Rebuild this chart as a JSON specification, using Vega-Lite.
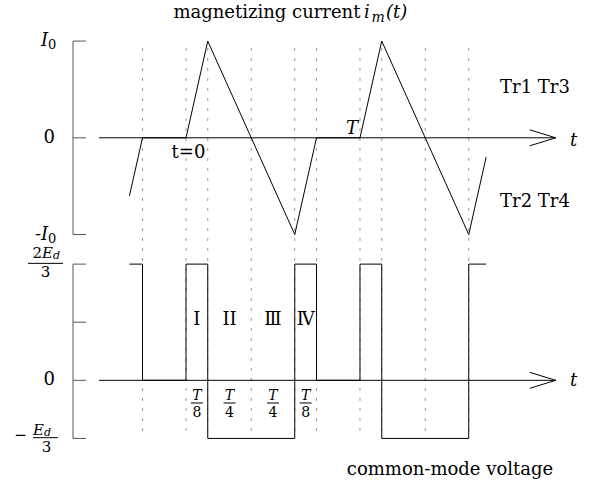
{
  "$schema": "https://vega.github.io/schema/vega-lite/v6.json",
  "width": 590,
  "height": 487,
  "padding": 0,
  "autosize": {"type": "fit", "contains": "padding"},
  "background": "white",
  "config": {"view": {"stroke": null}, "text": {"font": "DejaVu Serif", "color": "black"}},
  "resolve": {"scale": {"y": "independent"}},
  "layer": [
    {
      "data": {"values": [{"t": -2}, {"t": 0}, {"t": 1}, {"t": 3}, {"t": 5}, {"t": 6}, {"t": 8}, {"t": 9}, {"t": 11}, {"t": 13}]},
      "mark": {"type": "rule", "strokeDash": [3, 7], "color": "#999999", "strokeWidth": 1},
      "encoding": {
        "x": {"field": "t", "type": "quantitative", "scale": {"domain": [-8.552, 18.575], "nice": false, "zero": false}, "axis": null},
        "y": {"datum": 0.929, "type": "quantitative", "scale": {"domain": [-3.611, 1.425], "nice": false, "zero": false}, "axis": null},
        "y2": {"datum": -3.073}
      }
    },
    {
      "data": {"values": [{"a": -4, "b": 17, "v": 0}]},
      "mark": {"type": "rule", "color": "black", "strokeWidth": 1},
      "encoding": {
        "x": {"field": "a", "type": "quantitative", "scale": {"domain": [-8.552, 18.575], "nice": false, "zero": false}, "axis": null},
        "x2": {"field": "b"},
        "y": {"field": "v", "type": "quantitative", "scale": {"domain": [-3.611, 1.425], "nice": false, "zero": false}, "axis": null}
      }
    },
    {
      "data": {"values": [{"t": 15.8, "v": 0.083, "k": 0}, {"t": 17, "v": 0, "k": 1}, {"t": 15.8, "v": -0.083, "k": 2}]},
      "mark": {"type": "line", "color": "black", "strokeWidth": 1},
      "encoding": {
        "x": {"field": "t", "type": "quantitative", "scale": {"domain": [-8.552, 18.575], "nice": false, "zero": false}, "axis": null},
        "y": {"field": "v", "type": "quantitative", "scale": {"domain": [-3.611, 1.425], "nice": false, "zero": false}, "axis": null},
        "order": {"field": "k"}
      }
    },
    {
      "data": {"values": [
        {"t": -2.6, "im": -0.6}, {"t": -2, "im": 0}, {"t": 0, "im": 0}, {"t": 1, "im": 1},
        {"t": 5, "im": -1}, {"t": 6, "im": 0}, {"t": 8, "im": 0}, {"t": 9, "im": 1},
        {"t": 13, "im": -1}, {"t": 13.8, "im": -0.2}
      ]},
      "mark": {"type": "line", "color": "black", "strokeWidth": 1},
      "encoding": {
        "x": {"field": "t", "type": "quantitative", "scale": {"domain": [-8.552, 18.575], "nice": false, "zero": false}, "axis": null},
        "y": {"field": "im", "type": "quantitative", "scale": {"domain": [-3.611, 1.425], "nice": false, "zero": false}, "axis": null}
      }
    },
    {
      "data": {"values": [{"a": -5.195, "b": -5.195, "v": 1, "w": -1}, {"a": -5.195, "b": -4.6, "v": 1, "w": 1}, {"a": -5.195, "b": -4.6, "v": 0, "w": 0}, {"a": -5.195, "b": -4.6, "v": -1, "w": -1}]},
      "mark": {"type": "rule", "color": "#555555", "strokeWidth": 1},
      "encoding": {
        "x": {"field": "a", "type": "quantitative", "scale": {"domain": [-8.552, 18.575], "nice": false, "zero": false}, "axis": null},
        "x2": {"field": "b"},
        "y": {"field": "v", "type": "quantitative", "scale": {"domain": [-3.611, 1.425], "nice": false, "zero": false}, "axis": null},
        "y2": {"field": "w"}
      }
    },
    {
      "data": {"values": [{"a": -4, "b": 17, "v": 0}]},
      "mark": {"type": "rule", "color": "black", "strokeWidth": 1},
      "encoding": {
        "x": {"field": "a", "type": "quantitative", "scale": {"domain": [-8.552, 18.575], "nice": false, "zero": false}, "axis": null},
        "x2": {"field": "b"},
        "y": {"field": "v", "type": "quantitative", "scale": {"domain": [-0.612, 2.182], "nice": false, "zero": false}, "axis": null}
      }
    },
    {
      "data": {"values": [{"t": 15.8, "v": 0.046, "k": 0}, {"t": 17, "v": 0, "k": 1}, {"t": 15.8, "v": -0.046, "k": 2}]},
      "mark": {"type": "line", "color": "black", "strokeWidth": 1},
      "encoding": {
        "x": {"field": "t", "type": "quantitative", "scale": {"domain": [-8.552, 18.575], "nice": false, "zero": false}, "axis": null},
        "y": {"field": "v", "type": "quantitative", "scale": {"domain": [-0.612, 2.182], "nice": false, "zero": false}, "axis": null},
        "order": {"field": "k"}
      }
    },
    {
      "data": {"values": [
        {"t": -2.6, "vcm": 0.6667}, {"t": -2, "vcm": 0}, {"t": 0, "vcm": 0.6667}, {"t": 1, "vcm": -0.3333},
        {"t": 5, "vcm": 0.6667}, {"t": 6, "vcm": 0}, {"t": 8, "vcm": 0.6667}, {"t": 9, "vcm": -0.3333},
        {"t": 13, "vcm": 0.6667}, {"t": 13.8, "vcm": 0.6667}
      ]},
      "mark": {"type": "line", "color": "black", "strokeWidth": 1, "interpolate": "step-after"},
      "encoding": {
        "x": {"field": "t", "type": "quantitative", "scale": {"domain": [-8.552, 18.575], "nice": false, "zero": false}, "axis": null},
        "y": {"field": "vcm", "type": "quantitative", "scale": {"domain": [-0.612, 2.182], "nice": false, "zero": false}, "axis": null}
      }
    },
    {
      "data": {"values": [{"a": -5.195, "b": -5.195, "v": 0.6667, "w": -0.3333}, {"a": -5.195, "b": -4.6, "v": 0.6667, "w": 0.6667}, {"a": -5.195, "b": -4.6, "v": 0.3333, "w": 0.3333}, {"a": -5.195, "b": -4.6, "v": 0, "w": 0}, {"a": -5.195, "b": -4.6, "v": -0.3333, "w": -0.3333}]},
      "mark": {"type": "rule", "color": "#555555", "strokeWidth": 1},
      "encoding": {
        "x": {"field": "a", "type": "quantitative", "scale": {"domain": [-8.552, 18.575], "nice": false, "zero": false}, "axis": null},
        "x2": {"field": "b"},
        "y": {"field": "v", "type": "quantitative", "scale": {"domain": [-0.612, 2.182], "nice": false, "zero": false}, "axis": null},
        "y2": {"field": "w"}
      }
    },
    {
      "data": {"values": [{"t": 0.5}, {"t": 2}, {"t": 4}, {"t": 5.5}]},
      "mark": {"type": "rule", "color": "black", "strokeWidth": 1, "xOffset": -6, "x2Offset": 6},
      "encoding": {
        "x": {"field": "t", "type": "quantitative", "scale": {"domain": [-8.552, 18.575], "nice": false, "zero": false}, "axis": null},
        "x2": {"field": "t"},
        "y": {"datum": -0.13, "type": "quantitative", "scale": {"domain": [-0.612, 2.182], "nice": false, "zero": false}, "axis": null}
      }
    },
    {
      "data": {"values": [{"a": -7.264, "b": -5.655, "v": 0.671}, {"a": -7.03, "b": -5.885, "v": -0.329}]},
      "mark": {"type": "rule", "color": "black", "strokeWidth": 1},
      "encoding": {
        "x": {"field": "a", "type": "quantitative", "scale": {"domain": [-8.552, 18.575], "nice": false, "zero": false}, "axis": null},
        "x2": {"field": "b"},
        "y": {"field": "v", "type": "quantitative", "scale": {"domain": [-0.612, 2.182], "nice": false, "zero": false}, "axis": null}
      }
    },
    {
      "data": {"values": [{"label": "Tr1 Tr3", "t": 14.44, "v": 0.466}, {"label": "Tr2 Tr4", "t": 14.44, "v": -0.716}]},
      "mark": {"type": "text", "align": "left", "baseline": "alphabetic", "fontSize": 18, "font": "DejaVu Serif"},
      "encoding": {
        "x": {"field": "t", "type": "quantitative", "scale": {"domain": [-8.552, 18.575], "nice": false, "zero": false}, "axis": null},
        "y": {"field": "v", "type": "quantitative", "scale": {"domain": [-3.611, 1.425], "nice": false, "zero": false}, "axis": null},
        "text": {"field": "label"}
      }
    },
    {
      "data": {"values": [{"label": "t=0", "t": 0.115, "v": -0.209}]},
      "mark": {"type": "text", "align": "center", "baseline": "alphabetic", "fontSize": 18, "font": "DejaVu Serif"},
      "encoding": {
        "x": {"field": "t", "type": "quantitative", "scale": {"domain": [-8.552, 18.575], "nice": false, "zero": false}, "axis": null},
        "y": {"field": "v", "type": "quantitative", "scale": {"domain": [-3.611, 1.425], "nice": false, "zero": false}, "axis": null},
        "text": {"field": "label"}
      }
    },
    {
      "data": {"values": [{"label": "magnetizing current", "t": 8.02, "v": 1.239}]},
      "mark": {"type": "text", "align": "right", "baseline": "alphabetic", "fontSize": 18, "font": "DejaVu Serif"},
      "encoding": {
        "x": {"field": "t", "type": "quantitative", "scale": {"domain": [-8.552, 18.575], "nice": false, "zero": false}, "axis": null},
        "y": {"field": "v", "type": "quantitative", "scale": {"domain": [-3.611, 1.425], "nice": false, "zero": false}, "axis": null},
        "text": {"field": "label"}
      }
    },
    {
      "data": {"values": [{"label": "i", "t": 8.18, "v": 1.239}, {"label": "(t)", "t": 9.2, "v": 1.239}, {"label": "t", "t": 17.66, "v": -0.085}]},
      "mark": {"type": "text", "align": "left", "baseline": "alphabetic", "fontSize": 18, "fontStyle": "italic", "font": "DejaVu Serif"},
      "encoding": {
        "x": {"field": "t", "type": "quantitative", "scale": {"domain": [-8.552, 18.575], "nice": false, "zero": false}, "axis": null},
        "y": {"field": "v", "type": "quantitative", "scale": {"domain": [-3.611, 1.425], "nice": false, "zero": false}, "axis": null},
        "text": {"field": "label"}
      }
    },
    {
      "data": {"values": [{"label": "m", "t": 8.53, "v": 1.239}]},
      "mark": {"type": "text", "align": "left", "baseline": "alphabetic", "fontSize": 14, "fontStyle": "italic", "dy": 4, "font": "DejaVu Serif"},
      "encoding": {
        "x": {"field": "t", "type": "quantitative", "scale": {"domain": [-8.552, 18.575], "nice": false, "zero": false}, "axis": null},
        "y": {"field": "v", "type": "quantitative", "scale": {"domain": [-3.611, 1.425], "nice": false, "zero": false}, "axis": null},
        "text": {"field": "label"}
      }
    },
    {
      "data": {"values": [{"label": "T", "t": 7.91, "v": 0.039}]},
      "mark": {"type": "text", "align": "right", "baseline": "alphabetic", "fontSize": 18, "fontStyle": "italic", "font": "DejaVu Serif"},
      "encoding": {
        "x": {"field": "t", "type": "quantitative", "scale": {"domain": [-8.552, 18.575], "nice": false, "zero": false}, "axis": null},
        "y": {"field": "v", "type": "quantitative", "scale": {"domain": [-3.611, 1.425], "nice": false, "zero": false}, "axis": null},
        "text": {"field": "label"}
      }
    },
    {
      "data": {"values": [{"label": "I", "t": -6.34, "v": 1}, {"label": "-I", "t": -6.34, "v": -1}]},
      "mark": {"type": "text", "align": "right", "baseline": "middle", "fontSize": 18, "fontStyle": "italic", "font": "DejaVu Serif"},
      "encoding": {
        "x": {"field": "t", "type": "quantitative", "scale": {"domain": [-8.552, 18.575], "nice": false, "zero": false}, "axis": null},
        "y": {"field": "v", "type": "quantitative", "scale": {"domain": [-3.611, 1.425], "nice": false, "zero": false}, "axis": null},
        "text": {"field": "label"}
      }
    },
    {
      "data": {"values": [{"label": "0", "t": -6.34, "v": 1}, {"label": "0", "t": -6.34, "v": -1}]},
      "mark": {"type": "text", "align": "left", "baseline": "middle", "fontSize": 13, "dy": 4, "font": "DejaVu Serif"},
      "encoding": {
        "x": {"field": "t", "type": "quantitative", "scale": {"domain": [-8.552, 18.575], "nice": false, "zero": false}, "axis": null},
        "y": {"field": "v", "type": "quantitative", "scale": {"domain": [-3.611, 1.425], "nice": false, "zero": false}, "axis": null},
        "text": {"field": "label"}
      }
    },
    {
      "data": {"values": [{"label": "0", "t": -6.02, "v": 0}]},
      "mark": {"type": "text", "align": "right", "baseline": "middle", "fontSize": 18, "font": "DejaVu Serif"},
      "encoding": {
        "x": {"field": "t", "type": "quantitative", "scale": {"domain": [-8.552, 18.575], "nice": false, "zero": false}, "axis": null},
        "y": {"field": "v", "type": "quantitative", "scale": {"domain": [-3.611, 1.425], "nice": false, "zero": false}, "axis": null},
        "text": {"field": "label"}
      }
    },
    {
      "data": {"values": [{"label": "0", "t": -6.02, "v": 0}]},
      "mark": {"type": "text", "align": "right", "baseline": "middle", "fontSize": 18, "font": "DejaVu Serif"},
      "encoding": {
        "x": {"field": "t", "type": "quantitative", "scale": {"domain": [-8.552, 18.575], "nice": false, "zero": false}, "axis": null},
        "y": {"field": "v", "type": "quantitative", "scale": {"domain": [-0.612, 2.182], "nice": false, "zero": false}, "axis": null},
        "text": {"field": "label"}
      }
    },
    {
      "data": {"values": [{"label": "t", "t": 17.66, "v": -0.033}]},
      "mark": {"type": "text", "align": "left", "baseline": "alphabetic", "fontSize": 18, "fontStyle": "italic", "font": "DejaVu Serif"},
      "encoding": {
        "x": {"field": "t", "type": "quantitative", "scale": {"domain": [-8.552, 18.575], "nice": false, "zero": false}, "axis": null},
        "y": {"field": "v", "type": "quantitative", "scale": {"domain": [-0.612, 2.182], "nice": false, "zero": false}, "axis": null},
        "text": {"field": "label"}
      }
    },
    {
      "data": {"values": [{"label": "I", "t": 0.5}, {"label": "II", "t": 2}, {"label": "Ⅲ", "t": 4}, {"label": "Ⅳ", "t": 5.5}]},
      "mark": {"type": "text", "align": "center", "baseline": "alphabetic", "fontSize": 18, "font": "DejaVu Serif"},
      "encoding": {
        "x": {"field": "t", "type": "quantitative", "scale": {"domain": [-8.552, 18.575], "nice": false, "zero": false}, "axis": null},
        "y": {"datum": 0.317, "type": "quantitative", "scale": {"domain": [-0.612, 2.182], "nice": false, "zero": false}, "axis": null},
        "text": {"field": "label"}
      }
    },
    {
      "data": {"values": [{"label": "T", "t": 0.5}, {"label": "T", "t": 2}, {"label": "T", "t": 4}, {"label": "T", "t": 5.5}]},
      "mark": {"type": "text", "align": "center", "baseline": "alphabetic", "fontSize": 14, "fontStyle": "italic", "font": "DejaVu Serif"},
      "encoding": {
        "x": {"field": "t", "type": "quantitative", "scale": {"domain": [-8.552, 18.575], "nice": false, "zero": false}, "axis": null},
        "y": {"datum": -0.113, "type": "quantitative", "scale": {"domain": [-0.612, 2.182], "nice": false, "zero": false}, "axis": null},
        "text": {"field": "label"}
      }
    },
    {
      "data": {"values": [{"label": "8", "t": 0.5}, {"label": "4", "t": 2}, {"label": "4", "t": 4}, {"label": "8", "t": 5.5}]},
      "mark": {"type": "text", "align": "center", "baseline": "alphabetic", "fontSize": 14, "font": "DejaVu Serif"},
      "encoding": {
        "x": {"field": "t", "type": "quantitative", "scale": {"domain": [-8.552, 18.575], "nice": false, "zero": false}, "axis": null},
        "y": {"datum": -0.209, "type": "quantitative", "scale": {"domain": [-0.612, 2.182], "nice": false, "zero": false}, "axis": null},
        "text": {"field": "label"}
      }
    },
    {
      "data": {"values": [{"label": "2", "t": -6.62, "v": 0.729}]},
      "mark": {"type": "text", "align": "right", "baseline": "middle", "fontSize": 15, "font": "DejaVu Serif"},
      "encoding": {
        "x": {"field": "t", "type": "quantitative", "scale": {"domain": [-8.552, 18.575], "nice": false, "zero": false}, "axis": null},
        "y": {"field": "v", "type": "quantitative", "scale": {"domain": [-0.612, 2.182], "nice": false, "zero": false}, "axis": null},
        "text": {"field": "label"}
      }
    },
    {
      "data": {"values": [{"label": "E", "t": -6.62, "v": 0.729}, {"label": "E", "t": -7.03, "v": -0.285}]},
      "mark": {"type": "text", "align": "left", "baseline": "middle", "fontSize": 15, "fontStyle": "italic", "font": "DejaVu Serif"},
      "encoding": {
        "x": {"field": "t", "type": "quantitative", "scale": {"domain": [-8.552, 18.575], "nice": false, "zero": false}, "axis": null},
        "y": {"field": "v", "type": "quantitative", "scale": {"domain": [-0.612, 2.182], "nice": false, "zero": false}, "axis": null},
        "text": {"field": "label"}
      }
    },
    {
      "data": {"values": [{"label": "d", "t": -6.12, "v": 0.729}, {"label": "d", "t": -6.53, "v": -0.285}]},
      "mark": {"type": "text", "align": "left", "baseline": "middle", "fontSize": 11, "fontStyle": "italic", "dy": 3, "font": "DejaVu Serif"},
      "encoding": {
        "x": {"field": "t", "type": "quantitative", "scale": {"domain": [-8.552, 18.575], "nice": false, "zero": false}, "axis": null},
        "y": {"field": "v", "type": "quantitative", "scale": {"domain": [-0.612, 2.182], "nice": false, "zero": false}, "axis": null},
        "text": {"field": "label"}
      }
    },
    {
      "data": {"values": [{"label": "3", "t": -6.46, "v": 0.621}, {"label": "3", "t": -6.41, "v": -0.383}, {"label": "−", "t": -7.61, "v": -0.314}]},
      "mark": {"type": "text", "align": "center", "baseline": "middle", "fontSize": 15, "font": "DejaVu Serif"},
      "encoding": {
        "x": {"field": "t", "type": "quantitative", "scale": {"domain": [-8.552, 18.575], "nice": false, "zero": false}, "axis": null},
        "y": {"field": "v", "type": "quantitative", "scale": {"domain": [-0.612, 2.182], "nice": false, "zero": false}, "axis": null},
        "text": {"field": "label"}
      }
    },
    {
      "data": {"values": [{"label": "common-mode voltage", "t": 12.138, "v": -0.543}]},
      "mark": {"type": "text", "align": "center", "baseline": "alphabetic", "fontSize": 18, "font": "DejaVu Serif"},
      "encoding": {
        "x": {"field": "t", "type": "quantitative", "scale": {"domain": [-8.552, 18.575], "nice": false, "zero": false}, "axis": null},
        "y": {"field": "v", "type": "quantitative", "scale": {"domain": [-0.612, 2.182], "nice": false, "zero": false}, "axis": null},
        "text": {"field": "label"}
      }
    }
  ]
}
